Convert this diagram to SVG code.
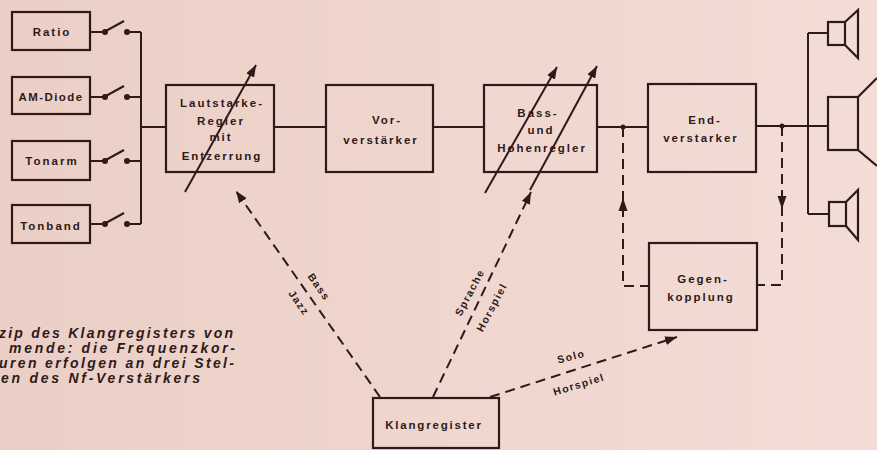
<svg xmlns="http://www.w3.org/2000/svg" width="877" height="450" viewBox="0 0 877 450">
<defs>
<linearGradient id="bg" x1="0" y1="0" x2="1" y2="0">
<stop offset="0" stop-color="#ebcfc6"/>
<stop offset="1" stop-color="#f3ddd6"/>
</linearGradient>
<marker id="ah" markerUnits="userSpaceOnUse" markerWidth="13" markerHeight="9" refX="12" refY="4.5" orient="auto">
<path d="M0,0 L12,4.5 L0,9 z" fill="#2e1a18"/>
</marker>
<style>
.b{fill:none;stroke:#2e1a18;stroke-width:2.2}
.l{fill:none;stroke:#2e1a18;stroke-width:2}
.d{fill:none;stroke:#2e1a18;stroke-width:2;stroke-dasharray:10 6}
.dot{fill:#2e1a18}
.t{font-family:"Liberation Sans",Arial,sans-serif;font-size:11.5px;font-weight:bold;fill:#2e1a18;text-anchor:middle;letter-spacing:2px}
.s{font-size:10.5px;letter-spacing:1.4px}
.c{font-family:"Liberation Sans",Arial,sans-serif;font-size:14px;font-weight:bold;font-style:italic;fill:#2e1a18}
</style>
</defs>
<rect x="0" y="0" width="877" height="450" fill="url(#bg)"/>

<g id="ratio"><rect class="b" x="12" y="12" width="78" height="38"/><text class="t" x="52" y="36">Ratio</text></g>
<g id="amdiode"><rect class="b" x="12" y="77" width="78" height="37"/><text class="t" x="51" y="101" style="letter-spacing:1.4px">AM-Diode</text></g>
<g id="tonarm"><rect class="b" x="12" y="141" width="78" height="39"/><text class="t" x="52" y="165">Tonarm</text></g>
<g id="tonband"><rect class="b" x="12" y="205" width="78" height="38"/><text class="t" x="51" y="230">Tonband</text></g>

<g id="lautstaerke"><rect class="b" x="166" y="85" width="108" height="87"/>
<text class="t" x="222" y="107">Lautstarke-</text>
<text class="t" x="221" y="125">Regler</text>
<text class="t" x="221" y="141">mit</text>
<text class="t" x="222" y="160">Entzerrung</text></g>

<g id="vorverstaerker"><rect class="b" x="326" y="85" width="107" height="87"/>
<text class="t" x="387" y="124">Vor-</text>
<text class="t" x="381" y="144">verstärker</text></g>

<g id="bass"><rect class="b" x="484" y="85" width="113" height="87"/>
<text class="t" x="538" y="117">Bass-</text>
<text class="t" x="541" y="134">und</text>
<text class="t" x="542" y="152">Hohenregler</text></g>

<g id="endverstaerker"><rect class="b" x="648" y="84" width="108" height="88"/>
<text class="t" x="705" y="124">End-</text>
<text class="t" x="701" y="142">verstarker</text></g>

<g id="gegenkopplung"><rect class="b" x="649" y="243" width="108" height="87"/>
<text class="t" x="703" y="283">Gegen-</text>
<text class="t" x="701" y="301">kopplung</text></g>

<g id="klangregister"><rect class="b" x="373" y="398" width="126" height="50"/>
<text class="t" x="434" y="429" style="letter-spacing:1.8px">Klangregister</text></g>

<g id="lautsprecher">
<rect class="b" x="828" y="22" width="17" height="23"/>
<path class="b" d="M845,22 L858,10 L858,58 L845,45"/>
<rect class="b" x="828" y="97" width="30" height="53"/>
<path class="b" d="M858,97 L877,78 M858,150 L877,166"/>
<rect class="b" x="829" y="202" width="17" height="24"/>
<path class="b" d="M846,202 L858,190 L858,240 L846,226"/>
</g>

<g id="connectors">
<path class="l" d="M90,32 H104 M104,32 L124,21 M127,32 H141"/>
<path class="l" d="M90,97 H104 M104,97 L124,86 M127,97 H141"/>
<path class="l" d="M90,161 H104 M104,161 L124,150 M127,161 H141"/>
<path class="l" d="M90,224 H104 M104,224 L124,213 M127,224 H141"/>
<circle class="dot" cx="105" cy="32" r="3"/><circle class="dot" cx="127" cy="32" r="3"/>
<circle class="dot" cx="105" cy="97" r="3"/><circle class="dot" cx="127" cy="97" r="3"/>
<circle class="dot" cx="105" cy="161" r="3"/><circle class="dot" cx="127" cy="161" r="3"/>
<circle class="dot" cx="105" cy="224" r="3"/><circle class="dot" cx="127" cy="224" r="3"/>
<path class="l" d="M141,32 V224"/>
<path class="l" d="M141,127 H166 M274,127 H326 M433,127 H484 M597,127 H648 M756,126 H828"/>
<circle class="dot" cx="623" cy="127" r="2.5"/>
<circle class="dot" cx="782" cy="126" r="2.5"/>
<path class="l" d="M808,33 V214 M808,33 H828 M808,214 H829"/>
<path class="l" d="M185,192 L256,65" marker-end="url(#ah)"/>
<path class="l" d="M485,193 L557,67" marker-end="url(#ah)"/>
<path class="l" d="M530,190 L597,66" marker-end="url(#ah)"/>
<path class="d" d="M623,127 V286 H649"/>
<path class="dot" d="M623,198 L618.5,211 L627.5,211 z"/>
<path class="d" d="M782,126 V285 H757"/>
<path class="dot" d="M782,209 L777.5,196 L786.5,196 z"/>
<path class="d" d="M380,397 L236,191" marker-end="url(#ah)"/>
<path class="d" d="M433,397 L531,192" marker-end="url(#ah)"/>
<path class="d" d="M490,397 L677,337" marker-end="url(#ah)"/>
<text class="t s" transform="translate(316,289) rotate(55)">Bass</text>
<text class="t s" transform="translate(296,305) rotate(55)">Jazz</text>
<text class="t s" transform="translate(473,294) rotate(-62)">Sprache</text>
<text class="t s" transform="translate(495,309) rotate(-62)">Horspiel</text>
<text class="t s" transform="translate(572,360) rotate(-14)">Solo</text>
<text class="t s" transform="translate(580,388) rotate(-17)">Horspiel</text>
</g>

<g id="caption">
<text class="c" x="-1" y="338" textLength="234" lengthAdjust="spacing">zip des Klangregisters von</text>
<text class="c" x="9" y="353" textLength="226" lengthAdjust="spacing">mende: die Frequenzkor-</text>
<text class="c" x="-1" y="368" textLength="235" lengthAdjust="spacing">uren erfolgen an drei Stel-</text>
<text class="c" x="1" y="383" textLength="199" lengthAdjust="spacing">en des Nf-Verstärkers</text>
</g>
</svg>
